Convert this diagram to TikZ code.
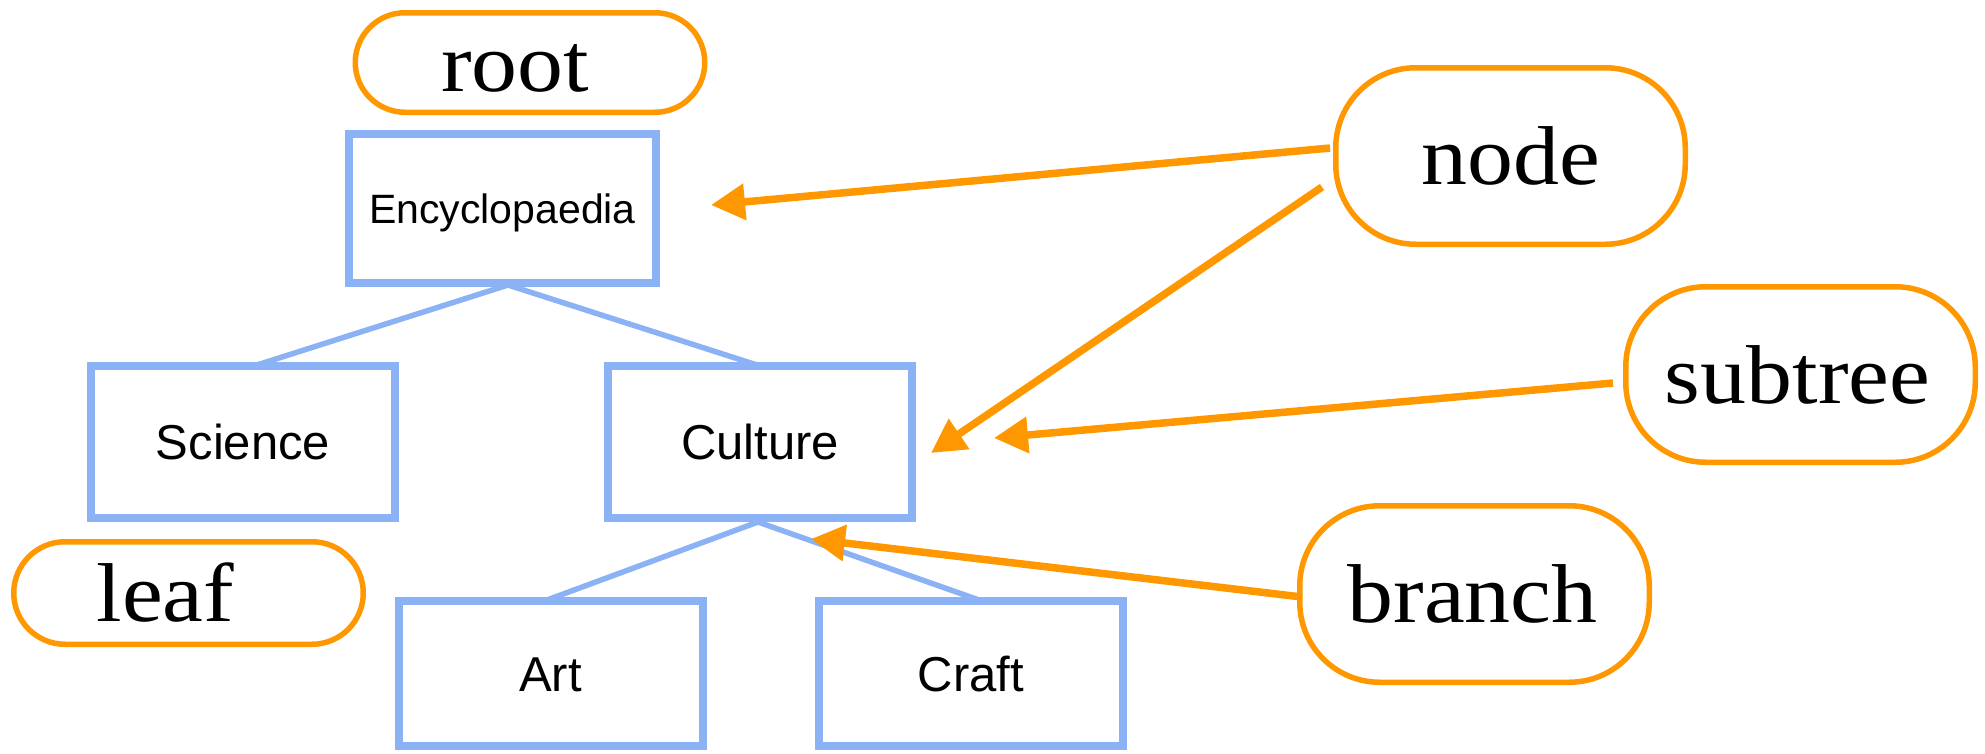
\documentclass[tikz,border=0pt]{standalone}
\usepackage{fontspec}
\setmainfont{Liberation Serif}[FakeStretch=1.1]
\newfontfamily\boxfont{Liberation Sans}
\usetikzlibrary{arrows.meta}
\definecolor{tagorange}{RGB}{255,152,0}
\definecolor{treeblue}{RGB}{138,178,245}

\begin{document}
\begin{tikzpicture}[x=1pt, y=-1pt,
  treebox/.style={draw=treeblue, line width=8pt, fill=white, inner sep=0pt,
    minimum width=304pt, minimum height=152pt,
    font=\boxfont\fontsize{49pt}{58pt}\selectfont, text height=35pt, text depth=0pt},
  treeedge/.style={draw=treeblue, line width=5.5pt},
  tag/.style={draw=tagorange, line width=5.5pt, inner sep=0pt, minimum width=349.5pt},
  smalltag/.style={tag, minimum height=99.5pt, rounded corners=49.75pt},
  bigtag/.style={tag, minimum height=176.5pt, rounded corners=80pt},
  tagtext/.style={inner sep=0pt, font=\fontsize{83.5pt}{100pt}\selectfont,
    text height=57pt, text depth=0pt},
  pointer/.style={draw=tagorange, line width=7.5pt,
    -{Triangle[length=34pt,width=35pt]}}
]
\useasboundingbox (0,0) rectangle (1985,753);

% tree edges (drawn first, boxes sit on top)
\coordinate (encyFoot) at (508,285);
\coordinate (cultFoot) at (758,522);
\draw[treeedge] (encyFoot) -- (257,365);
\draw[treeedge] (encyFoot) -- (757,365);
\draw[treeedge] (cultFoot) -- (547,600);
\draw[treeedge] (cultFoot) -- (979,600);

% tree boxes
\node[treebox, minimum width=307pt, minimum height=149pt,
  font=\boxfont\fontsize{41pt}{49pt}\selectfont, text height=29pt]
  (ency) at (502.5,208.5) {Encyclopaedia};
\node[treebox] (sci)   at (243,442)    {Science};
\node[treebox] (cult)  at (760,442)    {Culture};
\node[treebox, minimum height=145pt] (art)   at (550.5,673.5) {Art};
\node[treebox, minimum height=145pt] (craft) at (971,673.5)   {Craft};

% orange labels
\node[smalltag] (root) at (530,62.5) {};
\node[tagtext] (rootText) at ([xshift=-15pt]root.center) {root};
\node[smalltag, minimum height=102.5pt, rounded corners=51.25pt] (leaf) at (188.5,593) {};
\node[tagtext] (leafText) at ([xshift=-23pt]leaf.center) {leaf};
\node[bigtag] (nodeTag) at (1510.5,156) {};
\node[tagtext] (nodeText) at (nodeTag.center) {node};
\node[bigtag, minimum height=175.5pt] (subtree) at (1800.5,374.5) {};
\node[tagtext] (subtreeText) at ([xshift=-3pt]subtree.center) {subtree};
\node[bigtag] (branch) at (1474.5,594) {};
\node[tagtext] (branchText) at ([xshift=-2pt]branch.center) {branch};

% pointer tips
\coordinate (encyTip)  at ([shift={(51pt,3.5pt)}]ency.east);
\coordinate (cultTipA) at ([shift={(15pt,-11pt)}]cult.east);
\coordinate (cultTipB) at ([shift={(78pt,4pt)}]cult.east);
\coordinate (edgeTip)  at ([shift={(51pt,-17pt)}]cult.south);

% pointers
\draw[pointer] ([shift={(-3pt,8pt)}]nodeTag.west) -- (encyTip);
\draw[pointer] ([shift={(-11pt,-31pt)}]nodeTag.west) -- (cultTipA);
\draw[pointer] ([shift={(-10pt,-8.5pt)}]subtree.west) -- (cultTipB);
\draw[pointer] ([shift={(5pt,-3pt)}]branch.west) -- (edgeTip);
\end{tikzpicture}
\end{document}
